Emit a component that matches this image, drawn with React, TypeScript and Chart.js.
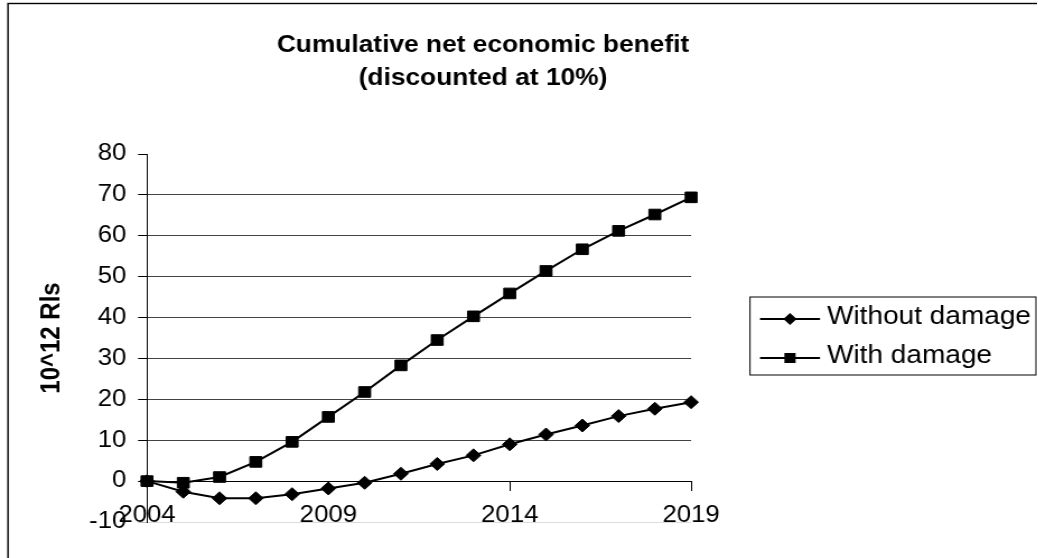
import React, { useEffect, useRef } from 'react';
import { Chart, registerables } from 'chart.js';

Chart.register(...registerables);

// ---- data ----
const years = ['2004', '2005', '2006', '2007', '2008', '2009', '2010', '2011', '2012', '2013', '2014', '2015', '2016', '2017', '2018', '2019'];
const withoutDamage = [0, -2.6, -4.2, -4.2, -3.2, -1.8, -0.4, 1.8, 4.2, 6.3, 9.0, 11.4, 13.6, 15.9, 17.7, 19.3];
const withDamage = [0, -0.4, 1.0, 4.7, 9.6, 15.7, 21.8, 28.3, 34.5, 40.3, 45.9, 51.4, 56.7, 61.2, 65.2, 69.4];
const seriesNames = ['Without damage', 'With damage'];
const yMin = -10;
const yMax = 80;
const yStep = 10;
const labelEvery = 5;
const titleLines = ['Cumulative net economic benefit', '(discounted at 10%)'];
const yAxisTitle = '10^12 Rls';

// ---- geometry (canvas is drawn narrow, then stretched horizontally like the reference) ----
const STRETCH = 1.12;
const PAGE_W = 1038;
const PAGE_H = 558;
const W = PAGE_W / STRETCH;
const H = PAGE_H;
const px = (pageX: number) => pageX / STRETCH;

const FONT = '"Liberation Sans", Arial, sans-serif';

const framePlugin = {
  id: 'frame',
  beforeDraw(chart: any) {
    const ctx = chart.ctx;
    ctx.save();
    ctx.fillStyle = '#ffffff';
    ctx.fillRect(0, 0, chart.width, chart.height);
    ctx.strokeStyle = '#000';
    ctx.lineWidth = 1.4;
    ctx.strokeRect(px(8), 3.5, W + 50, H + 50);
    ctx.restore();
  },
};

const titlePlugin = {
  id: 'twoLineTitle',
  afterDraw(chart: any) {
    const ctx = chart.ctx;
    ctx.save();
    ctx.fillStyle = '#000';
    ctx.font = `bold 23.5px ${FONT}`;
    ctx.textAlign = 'center';
    ctx.textBaseline = 'middle';
    const cx = px(483);
    ctx.fillText(titleLines[0], cx, 46);
    ctx.fillText(titleLines[1], cx, 79);
    ctx.restore();
  },
};

const legendPlugin = {
  id: 'boxLegend',
  afterDraw(chart: any) {
    const ctx = chart.ctx;
    ctx.save();
    const left = px(750);
    const right = px(1036);
    const top = 297;
    const bottom = 375;
    ctx.strokeStyle = '#000';
    ctx.lineWidth = 1;
    ctx.strokeRect(left, top, right - left, bottom - top);
    const rowY = [319, 358];
    chart.data.datasets.forEach((ds: any, i: number) => {
      const y = rowY[i];
      ctx.strokeStyle = '#000';
      ctx.lineWidth = 2;
      ctx.beginPath();
      ctx.moveTo(px(760), y);
      ctx.lineTo(px(820), y);
      ctx.stroke();
      const mx = px(790);
      ctx.fillStyle = '#000';
      ctx.beginPath();
      if (ds.pointStyle === 'rectRot') {
        const r = 6;
        ctx.moveTo(mx - r, y);
        ctx.lineTo(mx, y - r);
        ctx.lineTo(mx + r, y);
        ctx.lineTo(mx, y + r);
        ctx.closePath();
      } else {
        const s = 5;
        ctx.rect(mx - s, y - s, 2 * s, 2 * s);
      }
      ctx.fill();
      ctx.font = `25px ${FONT}`;
      ctx.textAlign = 'left';
      ctx.textBaseline = 'middle';
      ctx.fillText(ds.label, px(827), y - 2);
    });
    ctx.restore();
  },
};

export default function App() {
  const canvasRef = useRef<HTMLCanvasElement | null>(null);

  useEffect(() => {
    if (!canvasRef.current) return;
    const chart = new Chart(canvasRef.current, {
      type: 'line',
      data: {
        labels: years,
        datasets: [
          {
            label: seriesNames[0],
            data: withoutDamage,
            borderColor: '#000',
            backgroundColor: '#000',
            borderWidth: 2,
            pointStyle: 'rectRot',
            pointRadius: 6.5,
            pointHoverRadius: 6.5,
            pointBackgroundColor: '#000',
            pointBorderColor: '#000',
            pointBorderWidth: 1,
            tension: 0,
            xAxisID: 'x',
            yAxisID: 'y',
          },
          {
            label: seriesNames[1],
            data: withDamage,
            borderColor: '#000',
            backgroundColor: '#000',
            borderWidth: 2,
            pointStyle: 'rect',
            pointRadius: 7.5,
            pointHoverRadius: 7.5,
            pointBackgroundColor: '#000',
            pointBorderColor: '#000',
            pointBorderWidth: 1,
            tension: 0,
            xAxisID: 'x',
            yAxisID: 'y',
          },
        ],
      },
      options: {
        responsive: false,
        maintainAspectRatio: false,
        devicePixelRatio: 1,
        animation: false,
        layout: {
          padding: { left: 0, top: 154, right: W - px(692), bottom: H - 522 },
        },
        plugins: {
          legend: { display: false },
          title: { display: false },
          tooltip: { enabled: false },
        },
        scales: {
          y: {
            type: 'linear',
            position: 'left',
            min: yMin,
            max: yMax,
            ticks: {
              stepSize: yStep,
              color: '#000',
              font: { family: FONT, size: 23 },
              padding: 10.5,
            },
            grid: {
              color: (c: any) =>
                c.tick && c.tick.value === yMax
                  ? 'rgba(0,0,0,0)'
                  : c.tick && c.tick.value === yMin
                  ? '#dcdcdc'
                  : '#444',
              lineWidth: 1,
              tickLength: 8,
              tickColor: (c: any) => (c.tick && c.tick.value === yMin ? '#bbb' : '#000'),
            },
            border: { display: true, color: '#000', width: 1 },
            title: {
              display: true,
              text: yAxisTitle,
              color: '#000',
              font: { family: FONT, size: 24, weight: 'bold' },
              padding: { top: 32, bottom: 0 },
            },
            afterFit: (scale: any) => {
              scale.width = px(147);
            },
          },
          x: {
            type: 'category',
            axis: 'x',
            position: { y: 0 } as any,
            offset: false,
            ticks: { display: false, autoSkip: false },
            grid: {
              drawOnChartArea: false,
              drawTicks: true,
              tickLength: 9,
              tickColor: (c: any) => (c.index % labelEvery === 0 ? '#000' : 'rgba(0,0,0,0)'),
              lineWidth: 1,
            },
            border: { display: true, color: '#000', width: 1 },
          },
          x2: {
            type: 'category',
            axis: 'x',
            position: { y: yMin } as any,
            labels: years,
            offset: false,
            ticks: {
              autoSkip: false,
              maxRotation: 0,
              minRotation: 0,
              color: '#000',
              font: { family: FONT, size: 23 },
              padding: -20,
              callback: (_v: any, i: number) => (i % labelEvery === 0 ? years[i] : ''),
            },
            grid: { display: false, drawTicks: false },
            border: { display: false },
          },
        },
      } as any,
      plugins: [framePlugin, titlePlugin, legendPlugin],
    });
    return () => chart.destroy();
  }, []);

  return (
    <div
      style={{
        position: 'absolute',
        left: 0,
        top: 0,
        width: W,
        height: H,
        transform: `scaleX(${STRETCH})`,
        transformOrigin: '0 0',
      }}
    >
      <canvas ref={canvasRef} width={W} height={H} style={{ display: 'block' }} />
    </div>
  );
}
